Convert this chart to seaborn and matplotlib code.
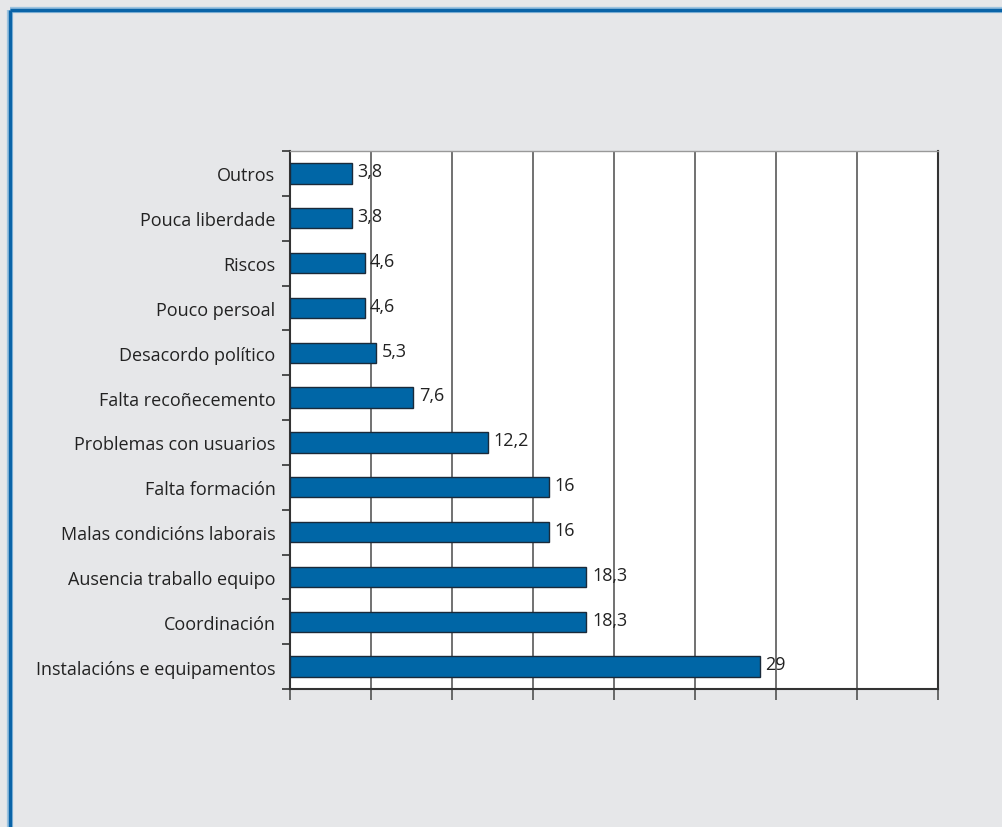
import matplotlib
matplotlib.use("Agg")
import matplotlib.pyplot as plt
from matplotlib.lines import Line2D
import seaborn as sns
import pandas as pd

categories = ["Outros", "Pouca liberdade", "Riscos", "Pouco persoal", "Desacordo político",
              "Falta recoñecemento", "Problemas con usuarios", "Falta formación",
              "Malas condicións laborais", "Ausencia traballo equipo", "Coordinación",
              "Instalacións e equipamentos"]
values = [3.8, 3.8, 4.6, 4.6, 5.3, 7.6, 12.2, 16, 16, 18.3, 18.3, 29]
value_labels = ["3,8", "3,8", "4,6", "4,6", "5,3", "7,6", "12,2", "16", "16", "18,3", "18,3", "29"]
x_ticks = [0, 5, 10, 15, 20, 25, 30, 35, 40]

df = pd.DataFrame({"cat": categories, "val": values})

sns.set_style("white")
plt.rcParams["font.family"] = ["Open Sans", "DejaVu Sans"]

bg = "#e6e7e9"
fig = plt.figure(figsize=(10.03, 8.28), dpi=100, facecolor=bg)
ax = fig.add_axes([290/1003, 1 - 690/828, (938-290)/1003, (690-152)/828])
ax.set_facecolor("white")

sns.barplot(data=df, x="val", y="cat", orient="h", color="#0066a6", saturation=1,
            width=0.45, edgecolor="#1a2a3a", linewidth=1, ax=ax, zorder=3)

ax.set_xlim(0, 40)
ax.set_ylim(11.5, -0.5)
ax.set_xticks(x_ticks)
ax.set_xticklabels([])
ax.grid(axis="x", color="#4a4a4a", linewidth=1.1, zorder=1)
ax.grid(axis="y", visible=False)
ax.tick_params(axis="x", which="major", length=8, width=1.1, color="#444444", bottom=True)

ax.set_yticks(range(len(categories)))
ax.set_yticklabels(categories, fontsize=13, color="#222222")
ax.tick_params(axis="y", which="major", length=0, pad=10.5)
ax.set_yticks([i - 0.5 for i in range(len(categories) + 1)], minor=True)
ax.tick_params(axis="y", which="minor", length=6, width=1.2, color="#333333", left=True)

for s in ["left", "bottom", "right"]:
    ax.spines[s].set_color("#333333")
    ax.spines[s].set_linewidth(1.5)
ax.spines["top"].set_color("#999999")
ax.spines["top"].set_linewidth(1)
ax.set_xlabel("")
ax.set_ylabel("")

for i, (v, t) in enumerate(zip(values, value_labels)):
    ax.annotate(t, xy=(v, i), xytext=(4, 1.5), textcoords="offset points",
                ha="left", va="center", fontsize=13, color="#222222", zorder=5)

# blue frame
for lw, col in [(4.5, "#9cc3e0"), (2.5, "#0a64a8")]:
    fig.add_artist(Line2D([10/1003, 1], [1 - 11/828, 1 - 11/828], color=col, linewidth=lw,
                          transform=fig.transFigure, solid_capstyle="butt"))
    fig.add_artist(Line2D([10/1003, 10/1003], [0, 1 - 11/828], color=col, linewidth=lw,
                          transform=fig.transFigure, solid_capstyle="butt"))

fig.savefig("out.png", dpi=100, facecolor=bg)
